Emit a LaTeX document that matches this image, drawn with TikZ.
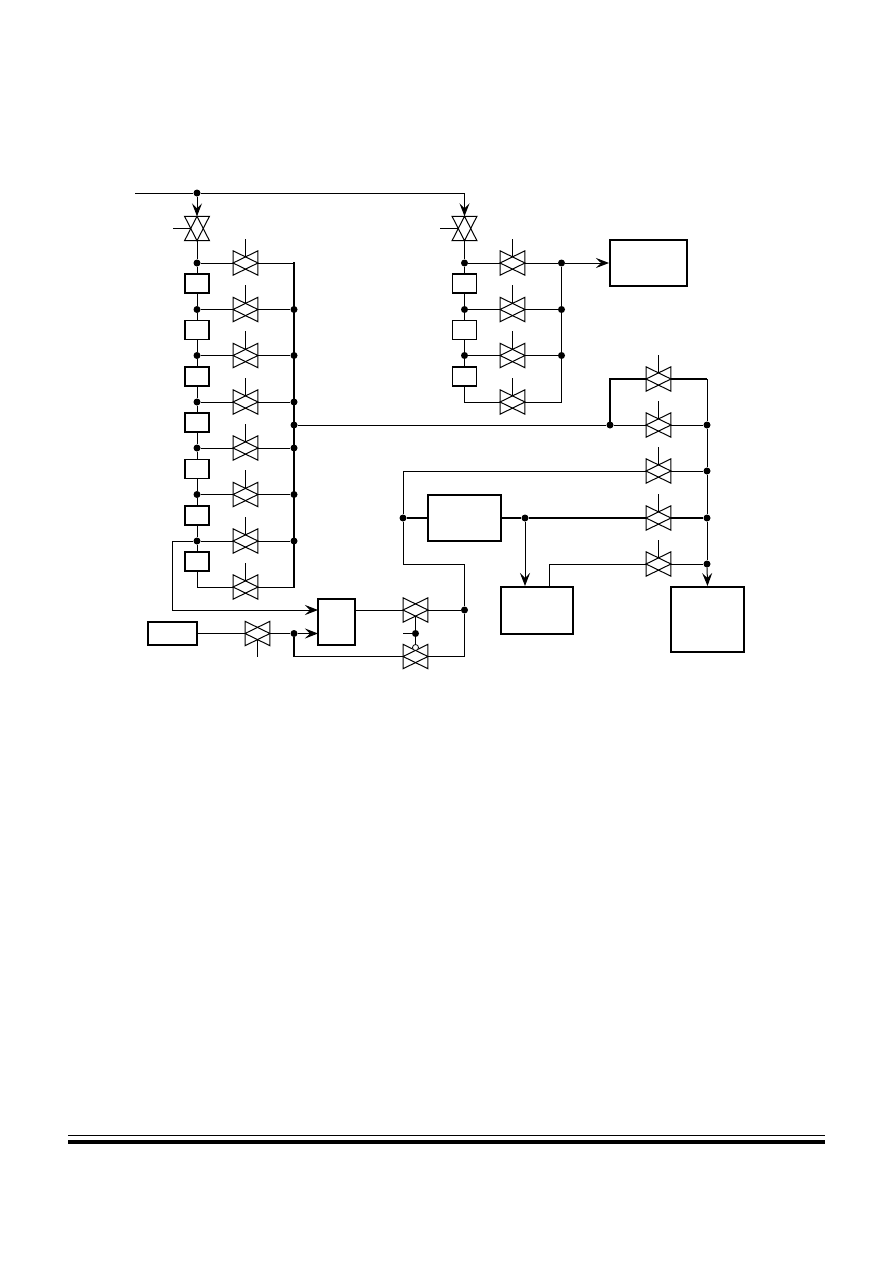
\documentclass[tikz,border=0pt]{standalone}
\usetikzlibrary{arrows.meta}
\tikzset{
  x=1pt,y=-1pt,
  wire/.style={line width=1pt},
  heavy/.style={line width=2pt},
  feed/.style={wire,-{Stealth[length=13pt,width=10pt,inset=5pt]}},
  dot/.style={circle,fill=black,draw=none,minimum size=7pt,inner sep=0pt},
  vbox/.style={draw=none,minimum width=24.5pt,minimum height=24pt,inner sep=0pt},
  vline/.style={line width=1pt,line join=miter},
  smallbox/.style={draw,line width=1.3pt,minimum width=24pt,minimum height=19pt,inner sep=0pt},
  bigbox/.style={draw,line width=2pt,inner sep=0pt},
  notc/.style={circle,draw,fill=white,line width=0.8pt,minimum size=6pt,inner sep=0pt}
}
% valve lying along a horizontal line, stem upward by default
\newcommand{\vlvH}[3]{%
  \node[vbox] (#1) at (#2,#3) {};
  \draw[vline] (#1.north west)--(#1.east)--(#1.south west)--cycle;
  \draw[vline] (#1.north east)--(#1.west)--(#1.south east)--cycle;}
\newcommand{\vlvU}[3]{\vlvH{#1}{#2}{#3}
  \draw[wire] (#1.north) -- ++(0,-12) (#1.north) -- ++(0,6);}
\newcommand{\vlvD}[3]{\vlvH{#1}{#2}{#3}
  \draw[wire] (#1.south) -- ++(0,11) (#1.south) -- ++(0,-6);}
% valve lying along a vertical line, stem to the left
\newcommand{\vlvV}[3]{%
  \node[vbox] (#1) at (#2,#3) {};
  \draw[vline] (#1.north west)--(#1.north east)--(#1.south)--cycle;
  \draw[vline] (#1.south west)--(#1.south east)--(#1.north)--cycle;
  \draw[wire] (#1.west) -- ++(-12,0) (#1.west) -- ++(6,0);}
\begin{document}
\begin{tikzpicture}
\useasboundingbox (0,0) rectangle (892,1263);
\fill[white] (0,0) rectangle (892,1263);

% rules at the foot of the page
\coordinate (ruleAa) at (68,1135.5); \coordinate (ruleAb) at (825,1135.5);
\coordinate (ruleBa) at (68,1142); \coordinate (ruleBb) at (825,1142);
\draw[wire] (ruleAa) -- (ruleAb);
\draw[line width=4pt] (ruleBa) -- (ruleBb);

% ---------- left column ----------
\vlvV{MA}{197}{228.5}
\vlvV{MB}{464.5}{228.5}
\coordinate (start) at (135,193);
\node[dot] (top) at (197,193) {};
\draw[wire] (start) -- (top);
\draw[feed] (top) -- (MA.north);
\draw[feed] (top) -| (MB.north);

\foreach \n/\y in {1/263,2/309.5,3/355.5,4/402,5/448,6/494.5,7/541}{
  \node[dot] (j\n) at (197,\y) {};
  \vlvU{L\n}{245.5}{\y}
  \draw[wire] (j\n) -- (L\n.west);
}
\vlvU{L8}{245.5}{587}
\foreach \n/\y in {1/283.5,2/330,3/376.5,4/422.5,5/469,6/515.5,7/561.5}{
  \node[smallbox] (b\n) at (197,\y) {};
}
\draw[wire] (MA.south) -- (j1);
\foreach \a/\b in {1/2,2/3,3/4,4/5,5/6,6/7}{
  \draw[wire] (j\a) -- (b\a.north);
  \draw[wire] (b\a.south) -- (j\b);
}
\draw[wire] (j7) -- (b7.north);
\draw[wire] (b7.south) |- (L8.west);

% left bus
\coordinate (busT) at (294,263); \coordinate (busB) at (294,587);
\draw[line width=2pt,line cap=rect] (busT) -- (busB);
\draw[wire] (L1.east) -- (busT);
\draw[wire] (L8.east) -- (busB);
\foreach \n/\y in {2/309.5,3/355.5,4/402,5/448,6/494.5,7/541}{
  \node[dot] (d\n) at (294,\y) {};
  \draw[wire] (L\n.east) -- (d\n);
}
\node[dot] (dm) at (294,425) {};

% ---------- second column ----------
\foreach \n/\y in {1/263,2/309.5,3/355.5}{
  \node[dot] (k\n) at (464.5,\y) {};
  \vlvU{R\n}{512.5}{\y}
  \draw[wire] (k\n) -- (R\n.west);
  \node[dot] (r\n) at (561.5,\y) {};
  \draw[wire] (R\n.east) -- (r\n);
}
\vlvU{R4}{512.5}{402}
\foreach \n/\y in {1/283.5,2/330,3/376.5}{
  \node[smallbox] (c\n) at (464.5,\y) {};
}
\draw[wire] (MB.south) -- (k1);
\foreach \a/\b in {1/2,2/3}{
  \draw[wire] (k\a) -- (c\a.north);
  \draw[wire] (c\a.south) -- (k\b);
}
\draw[wire] (k3) -- (c3.north);
\draw[wire] (c3.south) |- (R4.west);
\coordinate (rbot) at (561.5,402);
\draw[wire] (R4.east) -- (rbot) -- (r3) -- (r2) -- (r1);
\node[bigbox,minimum width=77pt,minimum height=46pt] (OUT) at (648.5,263) {};
\draw[feed] (r1) -- (OUT.west);

% ---------- right column ----------
\vlvU{T1}{658.5}{379}
\vlvU{T2}{658.5}{425}
\vlvU{T3}{658.5}{471}
\vlvU{T4}{658.5}{518}
\vlvU{T5}{658.5}{564}
\node[dot] (x) at (610,425) {};
\draw[wire] (dm) -- (x);
\draw[wire] (x) -- (T2.west);
\coordinate (xup) at (610,379);
\coordinate (rt) at (707,379);
\draw[heavy,line cap=rect] (x) -- (xup) -- (T1.west);
\draw[heavy] (T1.east) -- (rt);
\foreach \n/\y in {2/425,3/471,4/518,5/564}{
  \node[dot] (e\n) at (707,\y) {};
}
\draw[wire] (T2.east) -- (e2);
\draw[wire] (T3.east) -- (e3);
\draw[heavy] (T4.east) -- (e4);
\draw[wire] (T5.east) -- (e5);
\node[bigbox,minimum width=73pt,minimum height=65pt] (BIG) at (707.5,619.5) {};
\draw[wire] (rt) -- (e2) -- (e3) -- (e4) -- (e5);
\draw[feed] (e5) -- (BIG.north);

% ---------- middle block ----------
\node[bigbox,minimum width=73pt,minimum height=46pt] (MID) at (464.5,518) {};
\node[dot] (y) at (403,518) {};
\node[dot] (z) at (525,518) {};
\draw[heavy] (y) -- (MID.west);
\draw[heavy] (MID.east) -- (z);
\draw[heavy] (z) -- (T4.west);
\coordinate (yt) at (403,471);
\coordinate (yb) at (403,564);
\coordinate (ybr) at (464.5,564);
\draw[wire] (T3.west) -- (yt) -- (y) -- (yb) -- (ybr);
\node[bigbox,minimum width=72pt,minimum height=47pt] (LOW) at (537,610.5) {};
\draw[feed] (z) -- (z |- LOW.north);
\coordinate (lowt) at (549.5,587);
\coordinate (lowu) at (549.5,564);
\draw[wire] (lowt) -- (lowu) -- (T5.west);

% ---------- bottom block ----------
\node[bigbox,minimum width=37pt,minimum height=46pt] (CTL) at (336.5,622) {};
\coordinate (in1) at (318,610);
\coordinate (in2) at (318,633.5);
\coordinate (lk) at (172,541);
\coordinate (lkb) at (172,610);
\draw[wire] (j7) -- (lk) -- (lkb);
\draw[feed] (lkb) -- (in1);

\node[bigbox,minimum width=49pt,minimum height=23pt] (SRC) at (172.5,633.5) {};
\vlvD{S}{257.5}{633.5}
\node[dot] (q) at (294,633.5) {};
\draw[wire] (SRC.east) -- (S.west);
\draw[wire] (S.east) -- (q);
\draw[feed] (q) -- (in2);

\vlvH{U}{415.5}{610}
\vlvH{V}{415.5}{656.5}
\node[dot] (p) at (464.5,610) {};
\node[dot] (g) at (415.5,633.5) {};
\coordinate (gl) at (403,633.5);
\coordinate (lr) at (464.5,656.5);
\coordinate (ll) at (294,656.5);
\draw[wire] (CTL.east |- in1) -- (U.west);
\draw[wire] (U.east) -- (p);
\draw[wire] (ybr) -- (p) -- (lr) -- (V.east);
\draw[wire] (V.west) -- (ll);
\draw[line width=1.4pt,line cap=rect] (ll) -- (q);
\draw[wire] (U.south) -- ++(0,-6);
\draw[wire] (U.south) -- (g);
\draw[wire] (gl) -- (g);
\node[notc] (n) at (415.5,647.5) {};
\draw[wire] (g) -- (n);
\end{tikzpicture}
\end{document}
